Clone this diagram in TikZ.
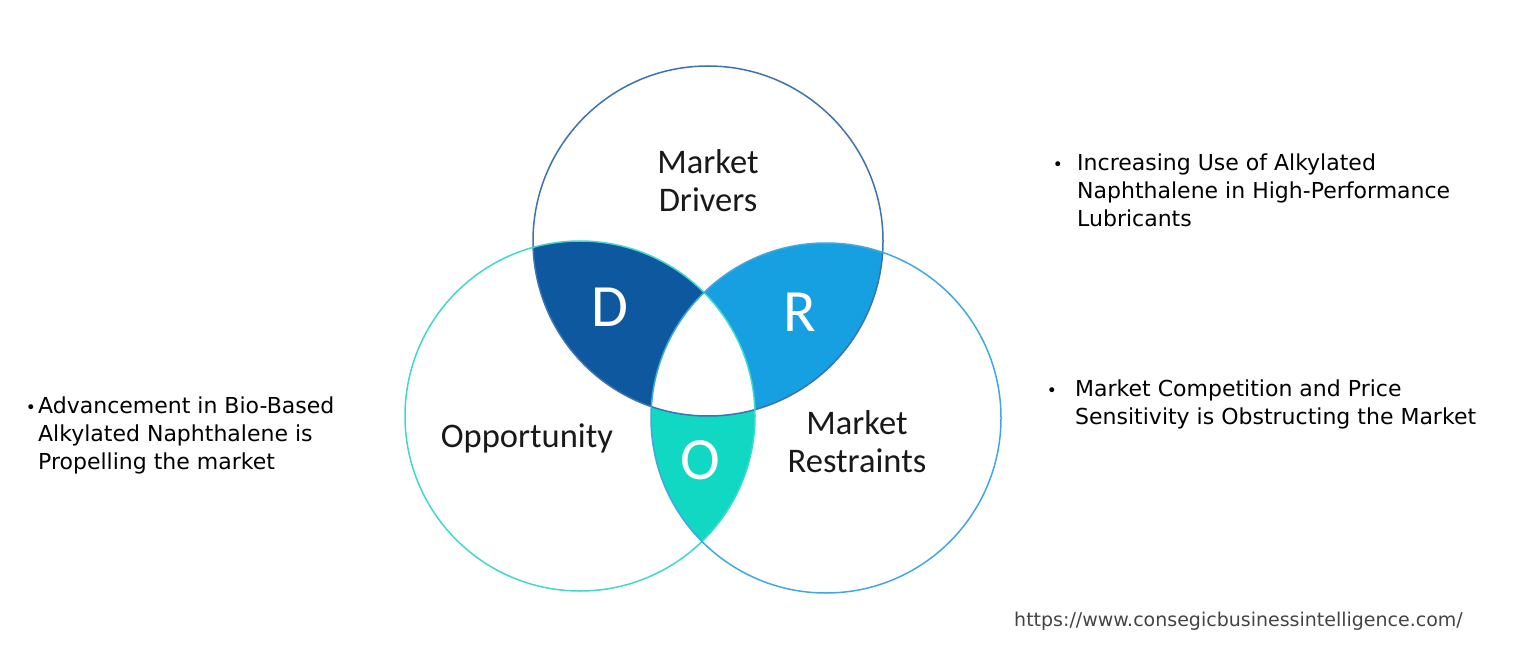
\documentclass[tikz,border=0pt]{standalone}
\usepackage{fontspec}
\setmainfont{DejaVu Sans}
\newfontfamily\carlito{Carlito}
\definecolor{dcol}{HTML}{0E58A0}
\definecolor{rcol}{HTML}{16A0E2}
\definecolor{ocol}{HTML}{10D8C2}
\definecolor{topline}{HTML}{3A72B2}
\definecolor{leftline}{HTML}{40D8CC}
\definecolor{rightline}{HTML}{40A8E0}
\definecolor{urlcol}{HTML}{444444}
\tikzset{
  ring/.style={circle, minimum size=350pt, inner sep=0pt, line width=1.5pt},
  circlabel/.style={font=\carlito\fontsize{34.5}{38}\selectfont, align=center, text=black!90},
  bigletter/.style={font=\carlito\fontsize{60}{62}\selectfont, text=white},
  bultext/.style={font=\fontsize{22}{28}\selectfont, anchor=base west, inner sep=0pt, text=black},
  bulletdot/.style={font=\fontsize{17}{20}\selectfont, anchor=base, inner sep=0pt, text=black},
}
\begin{document}
\begin{tikzpicture}[x=1pt,y=-1pt]
\useasboundingbox (0,0) rectangle (1515,660);
\coordinate (T) at (708,241);
\coordinate (L) at (580,416);
\coordinate (R) at (826,418);
% D region: top & left minus right
\begin{scope}
  \clip (T) circle (175pt);
  \clip (L) circle (175pt);
  \fill[dcol, even odd rule] (L) circle (175pt) (R) circle (175pt);
\end{scope}
% R region: top & right minus left
\begin{scope}
  \clip (T) circle (175pt);
  \clip (R) circle (175pt);
  \fill[rcol, even odd rule] (R) circle (175pt) (L) circle (175pt);
\end{scope}
% O region: left & right minus top
\begin{scope}
  \clip (L) circle (175pt);
  \clip (R) circle (175pt);
  \fill[ocol, even odd rule] (L) circle (175pt) (T) circle (175pt);
\end{scope}
\node[ring, draw=topline] (top) at (T) {};
\node[ring, draw=leftline] (left) at (L) {};
\node[ring, draw=rightline] (right) at (R) {};
\node[circlabel] (drv) at (708,181) {Market\\Drivers};
\node[circlabel] (opp) at (527,438) {Opportunity};
\node[circlabel] (res) at (857,442) {Market\\Restraints};
\node[bigletter] (dl) at (610,307) {D};
\node[bigletter] (rl) at (800,312) {R};
\node[bigletter] (ol) at (700,460) {O};
% left bullet
\node[bulletdot] (b1) at (31,413) {•};
\node[bultext] (l1a) at (38,413) {Advancement in Bio-Based};
\node[bultext] (l1b) at (38,441) {Alkylated Naphthalene is};
\node[bultext] (l1c) at (38,469) {Propelling the market};
% right top bullet
\node[bulletdot] (b2) at (1058,171) {•};
\node[bultext] (r1a) at (1077,171) {Increasing Use of Alkylated};
\node[bultext] (r1b) at (1077,199) {Naphthalene in High-Performance};
\node[bultext] (r1c) at (1077,227) {Lubricants};
% right middle bullet
\node[bulletdot] (b3) at (1052,396) {•};
\node[bultext] (r2a) at (1075,396) {Market Competition and Price};
\node[bultext] (r2b) at (1075,424) {Sensitivity is Obstructing the Market};
% url
\node[font=\fontsize{19}{20}\selectfont, text=urlcol, anchor=base west, inner sep=0pt] (url) at (1014,626) {https://www.consegicbusinessintelligence.com/};
\end{tikzpicture}
\end{document}
